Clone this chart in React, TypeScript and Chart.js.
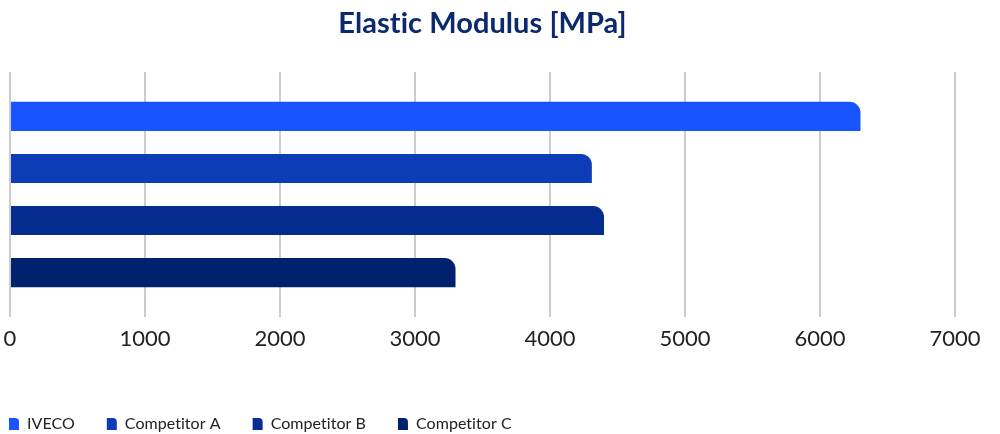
import React, { useEffect, useRef } from "react";
import { Chart, registerables } from "chart.js";

Chart.register(...registerables);

const titleText = "Elastic Modulus [MPa]";
const categories = [""];
const seriesNames = ["IVECO", "Competitor A", "Competitor B", "Competitor C"];
const seriesValues = [6300, 4310, 4400, 3300];
const seriesColors = ["#1854FF", "#0C3DB6", "#052D91", "#00226E"];
const xTickValues = [0, 1000, 2000, 3000, 4000, 5000, 6000, 7000];

const legendShift = {
  id: "legendShift",
  afterLayout(chart: any) {
    const l = chart.legend;
    if (l) {
      l.left -= 33;
      l.right -= 33;
      l.top += 8;
      l.bottom += 8;
    }
  },
  beforeDraw(chart: any) {
    try {
      chart.ctx.letterSpacing = "0.05px";
    } catch (e) {
      /* ignore */
    }
  },
};

export default function App() {
  const ref = useRef<HTMLCanvasElement | null>(null);

  useEffect(() => {
    if (!ref.current) return;
    const chart = new Chart(ref.current, {
      type: "bar",
      data: {
        labels: categories,
        datasets: seriesNames.map((name, i) => ({
          label: name,
          data: [seriesValues[i]],
          backgroundColor: seriesColors[i],
          borderWidth: 0,
          borderRadius: { topLeft: 0, bottomLeft: 0, topRight: 11, bottomRight: 0 },
          borderSkipped: "start" as const,
          categoryPercentage: 0.85,
          barPercentage: 0.56,
        })),
      },
      options: {
        indexAxis: "y",
        animation: false,
        responsive: false,
        maintainAspectRatio: false,
        layout: { padding: { left: 10, right: 45, top: 0, bottom: 0 } },
        plugins: {
          title: {
            display: true,
            text: titleText,
            fullSize: false,
            color: "#0B2A6E",
            font: { family: "Lato", size: 29, weight: "bold", lineHeight: 1.2 },
            padding: { top: 6.6, bottom: 30.6 },
          },
          legend: {
            display: true,
            position: "bottom",
            align: "start",
            labels: {
              boxWidth: 10,
              boxHeight: 12,
              padding: 32,
              color: "#222222",
              font: { family: "Lato", size: 16 },
              useBorderRadius: true,
              borderRadius: { topLeft: 0, bottomLeft: 0, topRight: 4, bottomRight: 0 } as any,
            },
          },
          tooltip: { enabled: false },
        },
        scales: {
          x: {
            type: "linear",
            min: xTickValues[0],
            max: xTickValues[xTickValues.length - 1],
            afterBuildTicks: (scale: any) => {
              scale.ticks = xTickValues.map((v) => ({ value: v }));
            },
            afterFit: (scale: any) => {
              scale.height = 59;
              scale.paddingLeft = 0;
              scale.paddingRight = 0;
            },
            ticks: {
              padding: 9,
              color: "#222222",
              font: { family: "Lato", size: 22 },
              callback: (v: any) => String(v),
            },
            grid: { color: "#cccccc", lineWidth: 2, drawTicks: false },
            border: { display: false },
          },
          y: {
            display: false,
            grid: { display: false },
          },
        },
      },
      plugins: [legendShift],
    });
    return () => chart.destroy();
  }, []);

  return (
    <div style={{ position: "absolute", left: 0, top: 0, width: 1000, height: 434 }}>
      <canvas ref={ref} width={1000} height={434} style={{ display: "block", width: 1000, height: 434 }} />
    </div>
  );
}
